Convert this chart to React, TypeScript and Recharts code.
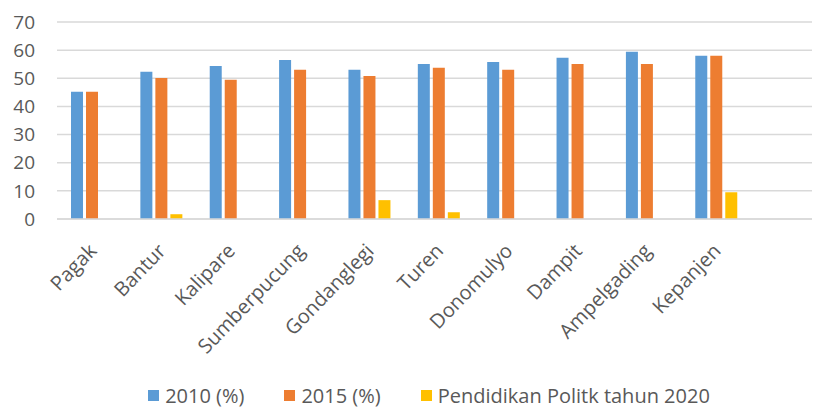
import { BarChart, Bar, XAxis, YAxis, CartesianGrid, Legend } from 'recharts';

// kecamatan names (last slot left empty like the original sheet)
const categories = ['Pagak', 'Bantur', 'Kalipare', 'Sumberpucung', 'Gondanglegi', 'Turen', 'Donomulyo', 'Dampit', 'Ampelgading', 'Kepanjen', ''];
const values2010 = [45.2, 52.3, 54.4, 56.5, 53, 55.1, 55.8, 57.3, 59.4, 58, null];
const values2015 = [45.2, 50.1, 49.5, 53, 50.8, 53.7, 53, 55.1, 55.1, 58, null];
const pendidikan2020 = [0, 1.7, 0, 0, 6.7, 2.4, 0, 0, 0, 9.5, null];
const yTicks = [0, 10, 20, 30, 40, 50, 60, 70];

const data = categories.map((name, i) => ({
    name,
    v2010: values2010[i],
    v2015: values2015[i],
    v2020: pendidikan2020[i],
}));

const FONT = "'Open Sans', sans-serif";
const TEXT = '#595959';

const legendItems = [
    { label: '2010 (%)', color: '#5B9BD5' },
    { label: '2015 (%)', color: '#ED7D31' },
    { label: 'Pendidikan Politk tahun 2020', color: '#FFC000' },
];

const RotatedTick = (props: any) => {
    const { x, y, payload } = props;
    const ax = x + 6;
    const ay = y + 25;
    return (
        <text
            x={ax}
            y={ay}
            transform={`rotate(-46, ${ax}, ${ay})`}
            textAnchor="end"
            fill={TEXT}
            fontSize={20}
            fontFamily={FONT}
        >
            {payload.value}
        </text>
    );
};

const LegendContent = () => (
    <div style={{ display: 'flex', justifyContent: 'center', paddingLeft: 30, fontFamily: FONT, fontSize: 20, color: TEXT }}>
        {legendItems.map((item) => (
            <div key={item.label} style={{ display: 'flex', alignItems: 'center', margin: '0 20px' }}>
                <span style={{ width: 11, height: 11, background: item.color, display: 'inline-block', marginRight: 6 }} />
                <span>{item.label}</span>
            </div>
        ))}
    </div>
);

const App = () => {
    return (
        <div style={{ width: 812, height: 401, overflow: 'hidden' }}>
            <BarChart
                width={812}
                height={401}
                data={data}
                margin={{ top: 14, right: 0, bottom: 0, left: 0 }}
                barSize={12}
                barGap={3}
            >
                <CartesianGrid vertical={false} stroke="#D9D9D9" strokeWidth={1.5} />
                <XAxis
                    dataKey="name"
                    tick={<RotatedTick />}
                    tickLine={false}
                    axisLine={{ stroke: '#D9D9D9', strokeWidth: 1.5 }}
                    interval={0}
                    height={163}
                />
                <YAxis
                    ticks={yTicks}
                    domain={[0, 70]}
                    width={49}
                    axisLine={false}
                    tickLine={false}
                    tickMargin={16}
                    tick={{ fill: TEXT, fontSize: 19, fontFamily: FONT }}
                />
                <Legend verticalAlign="bottom" content={<LegendContent />} />
                <Bar dataKey="v2010" fill="#5B9BD5" isAnimationActive={false} />
                <Bar dataKey="v2015" fill="#ED7D31" isAnimationActive={false} />
                <Bar dataKey="v2020" fill="#FFC000" isAnimationActive={false} />
            </BarChart>
        </div>
    );
};

export default App;
